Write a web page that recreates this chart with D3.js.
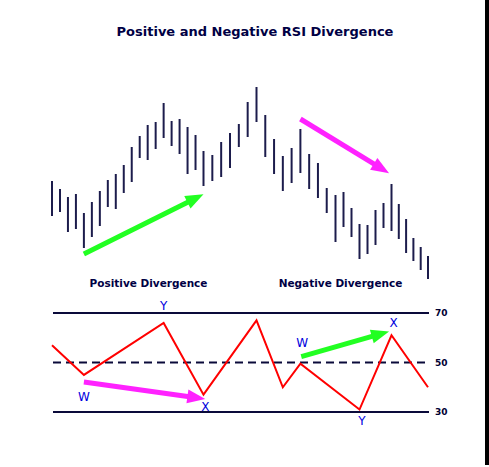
<!DOCTYPE html>
<html>
<head>
<meta charset="utf-8">
<script src="https://cdn.jsdelivr.net/npm/d3@7"></script>
<style>
  body { margin: 0; background: #fff; }
  svg { display: block; }
  text { font-family: "DejaVu Sans", Verdana, sans-serif; }
</style>
</head>
<body>
<div id="chart"></div>
<script>
// price bars (one per period)
const barHigh = [119, 111, 103, 106, 87, 98, 109, 120, 126, 135, 153, 164, 175, 178, 197, 179,
                 181, 173, 165, 149, 145, 158, 167, 176, 198, 213, 185, 161, 144, 152, 171, 146,
                 137, 112, 105, 108, 92, 76, 75, 90, 97, 116, 96, 81, 62, 53, 44];
const barLow  = [84, 88, 68, 71, 52, 63, 74, 93, 91, 107, 118, 142, 140, 151, 162, 154,
                 146, 126, 130, 114, 119, 123, 132, 153, 163, 178, 143, 126, 109, 117, 127, 111,
                 102, 87, 58, 73, 63, 41, 46, 55, 72, 69, 61, 47, 39, 30, 21];

// RSI swing points
const rsiIndex = [0, 4, 14, 19, 25, 28, 30, 37, 41, 46];
const rsiValue = [57, 45, 66, 37, 67, 40, 49.5, 31, 61, 40];
const rsiLevels = [70, 50, 30];

// divergence arrows  [fromIndex, fromValue, toIndex, toValue, colour]
const priceArrows = [
  [4, 46, 19, 105.7, "#22ff22"],
  [30, 181, 40.7, 126.7, "#ff22ff"]
];
const rsiArrows = [
  [4, 42.1, 19.2, 35.3, "#ff22ff"],
  [30.1, 52.4, 40.7, 62.5, "#22ff22"]
];
// swing labels  [index, rsi, letter]
const rsiLetters = [
  [14, 73, "Y"], [4, 36.3, "W"], [19.2, 32.2, "X"],
  [30.2, 58.1, "W"], [41.3, 65.9, "X"], [37.3, 26.6, "Y"]
];
const sectionLabels = [["Positive Divergence", 148.5], ["Negative Divergence", 340.5]];

const width = 489, height = 467;

let svg = d3.select("#chart")
            .append("svg")
            .attr("width", width)
            .attr("height", height);

// x scale shared by both panels (piecewise to follow the uneven spacing)
let x = d3.scaleLinear()
          .domain([0, 19, 25, 34, 41, 46])
          .range([52, 203.5, 256.5, 335.5, 391.5, 428]);

let yPrice = d3.scaleLinear().domain([20, 220]).range([280, 80]);
let yRsi = d3.scaleLinear().domain([30, 70]).range([412, 313]);

// right edge border
svg.append("rect")
   .attr("x", 485).attr("y", 0)
   .attr("width", 4).attr("height", 465)
   .attr("fill", "#000");

// title
svg.append("text")
   .attr("x", 255).attr("y", 36)
   .attr("text-anchor", "middle")
   .style("font-size", "13px")
   .style("font-weight", "bold")
   .attr("fill", "#000044")
   .text("Positive and Negative RSI Divergence");

// price bars
svg.append("g")
   .selectAll("line")
   .data(barHigh)
   .enter()
   .append("line")
   .attr("x1", (d, i) => x(i))
   .attr("x2", (d, i) => x(i))
   .attr("y1", d => yPrice(d))
   .attr("y2", (d, i) => yPrice(barLow[i]))
   .attr("stroke", "#1c1c4c")
   .attr("stroke-width", 2);

// arrow helper: shaft + triangular head, all in pixels from scaled ends
function drawArrow(g, x1, y1, x2, y2, color) {
  let dx = x2 - x1, dy = y2 - y1, len = Math.sqrt(dx*dx + dy*dy);
  let ux = dx/len, uy = dy/len;
  let headLen = 18, headW = 7;
  let bx = x2 - ux*headLen, by = y2 - uy*headLen;
  g.append("line")
   .attr("x1", x1).attr("y1", y1)
   .attr("x2", bx + ux*2).attr("y2", by + uy*2)
   .attr("stroke", color)
   .attr("stroke-width", 5);
  g.append("path")
   .attr("d", `M${x2},${y2}L${bx - uy*headW},${by + ux*headW}L${bx + uy*headW},${by - ux*headW}Z`)
   .attr("fill", color);
}

let arrowG = svg.append("g");
priceArrows.forEach(a => drawArrow(arrowG, x(a[0]), yPrice(a[1]), x(a[2]), yPrice(a[3]), a[4]));

// section labels
svg.selectAll(".section")
   .data(sectionLabels)
   .enter()
   .append("text")
   .attr("x", d => d[1]).attr("y", 287)
   .attr("text-anchor", "middle")
   .style("font-size", "10.5px")
   .style("font-weight", "bold")
   .attr("fill", "#000044")
   .text(d => d[0]);

// RSI level lines
svg.append("g")
   .selectAll("line")
   .data(rsiLevels)
   .enter()
   .append("line")
   .attr("x1", 53).attr("x2", 429)
   .attr("y1", d => yRsi(d)).attr("y2", d => yRsi(d))
   .attr("stroke", "#0a0a3a")
   .attr("stroke-width", 2)
   .attr("stroke-dasharray", d => d == 50 ? "8,5" : null);

// level labels on the right
svg.append("g")
   .selectAll("text")
   .data(rsiLevels)
   .enter()
   .append("text")
   .attr("x", 435)
   .attr("y", d => yRsi(d))
   .attr("dy", "0.35em")
   .style("font-size", "9px")
   .style("font-weight", "bold")
   .attr("fill", "#000033")
   .text(d => d);

// RSI line
svg.append("path")
   .datum(rsiIndex.map((d, i) => [d, rsiValue[i]]))
   .attr("fill", "none")
   .attr("stroke", "#ff0000")
   .attr("stroke-width", 2)
   .attr("d", d3.line()
                .x(d => x(d[0]))
                .y(d => yRsi(d[1])));

rsiArrows.forEach(a => drawArrow(arrowG, x(a[0]), yRsi(a[1]), x(a[2]), yRsi(a[3]), a[4]));

// swing letters
svg.append("g")
   .selectAll("text")
   .data(rsiLetters)
   .enter()
   .append("text")
   .attr("x", d => x(d[0]))
   .attr("y", d => yRsi(d[1]))
   .attr("dy", "0.36em")
   .attr("text-anchor", "middle")
   .style("font-size", "12px")
   .attr("fill", "#0000dd")
   .text(d => d[2]);
</script>
</body>
</html>
